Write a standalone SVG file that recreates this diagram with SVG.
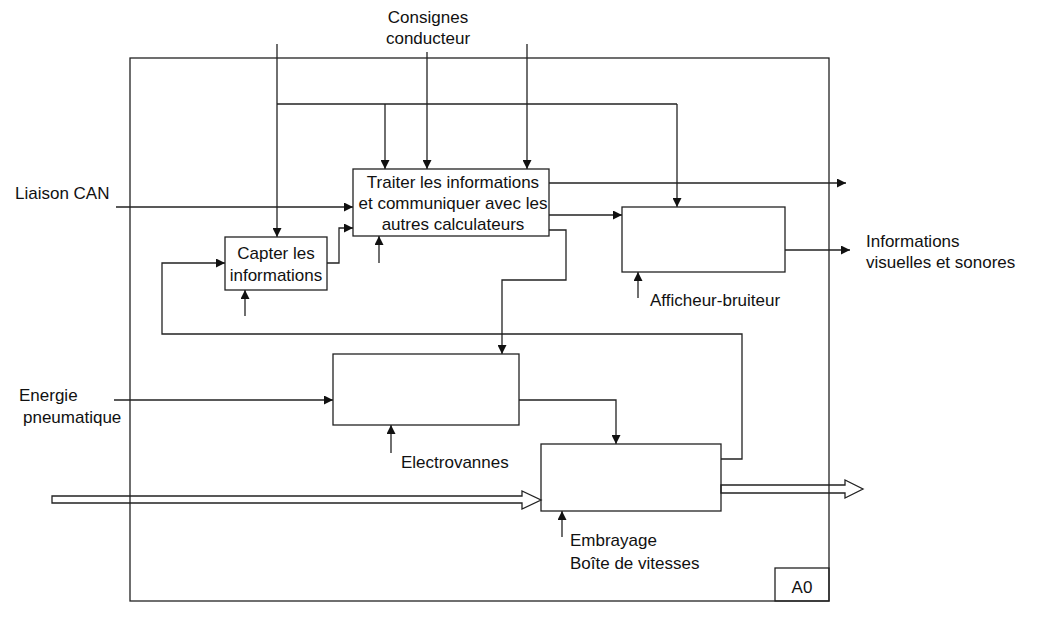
<svg xmlns="http://www.w3.org/2000/svg" width="1038" height="630" viewBox="0 0 1038 630">
<style>
.b{fill:none;stroke:#222;stroke-width:1.3}
.l{fill:none;stroke:#222;stroke-width:1.3}
.a{fill:none;stroke:#222;stroke-width:1.3;marker-end:url(#ah)}
.h{fill:none;stroke:#222;stroke-width:1.3}
text{font-family:"Liberation Sans",Arial,sans-serif;font-size:17px;fill:#111}
.c{text-anchor:middle}
</style>
<defs>
<marker id="ah" viewBox="0 0 10 10" refX="10" refY="5" markerWidth="10" markerHeight="9" markerUnits="userSpaceOnUse" orient="auto">
<path d="M0,0 L10,5 L0,10 z" fill="#111"/>
</marker>
</defs>
<rect width="1038" height="630" fill="#fff"/>
<g id="frame">
<rect class="b" x="130" y="58" width="699" height="543"/>
<rect class="b" x="775" y="568" width="54" height="33"/>
<text class="c" x="802" y="593">A0</text>
</g>
<g id="connectors">
<path class="a" d="M277,44 V237"/>
<path class="l" d="M277,104 H677"/>
<path class="a" d="M677,104 V207"/>
<path class="a" d="M385,104 V169"/>
<path class="a" d="M427,52 V169"/>
<path class="a" d="M527,44 V169"/>
<path class="a" d="M116,207 H353"/>
<path class="a" d="M327,263 H339 V228 H353"/>
<path class="a" d="M379,263 V236"/>
<path class="a" d="M245,316 V290"/>
<path class="a" d="M721,459 H742 V334 H162 V263 H225"/>
<path class="a" d="M549,215 H622"/>
<path class="a" d="M549,183 H846"/>
<path class="a" d="M549,230 H566 V280 H502 V354"/>
<path class="a" d="M785,250 H850"/>
<path class="a" d="M638,298 V272"/>
<path class="a" d="M114,400 H333"/>
<path class="a" d="M391,453 V425"/>
<path class="a" d="M519,400 H616 V444"/>
<path class="a" d="M562,537 V511"/>
<path class="h" d="M52,496 H522 V491 L541,500 L522,509 V503 H52 Z"/>
<path class="h" d="M721,485 H845 V480 L863,489 L845,498 V493 H721 Z"/>
</g>
<g id="traiter">
<rect class="b" x="353" y="169" width="196" height="67" fill="#fff"/>
<text class="c" x="453" y="188">Traiter les informations</text>
<text class="c" x="453" y="209">et communiquer avec les</text>
<text class="c" x="453" y="230">autres calculateurs</text>
</g>
<g id="capter">
<rect class="b" x="225" y="237" width="102" height="53"/>
<text class="c" x="276" y="259">Capter les</text>
<text class="c" x="276" y="281">informations</text>
</g>
<g id="afficheur">
<rect class="b" x="622" y="207" width="163" height="65"/>
<text x="650" y="306">Afficheur-bruiteur</text>
</g>
<g id="electrovannes">
<rect class="b" x="333" y="354" width="186" height="71"/>
<text x="401" y="468">Electrovannes</text>
</g>
<g id="embrayage">
<rect class="b" x="541" y="444" width="180" height="67"/>
<text x="570" y="546">Embrayage</text>
<text x="570" y="569">Boîte de vitesses</text>
</g>
<g id="labels">
<text class="c" x="428" y="23">Consignes</text>
<text class="c" x="428" y="44">conducteur</text>
<text x="15" y="199">Liaison CAN</text>
<text x="866" y="247">Informations</text>
<text x="866" y="268">visuelles et sonores</text>
<text x="19" y="401">Energie</text>
<text x="23" y="423">pneumatique</text>
</g>
</svg>
